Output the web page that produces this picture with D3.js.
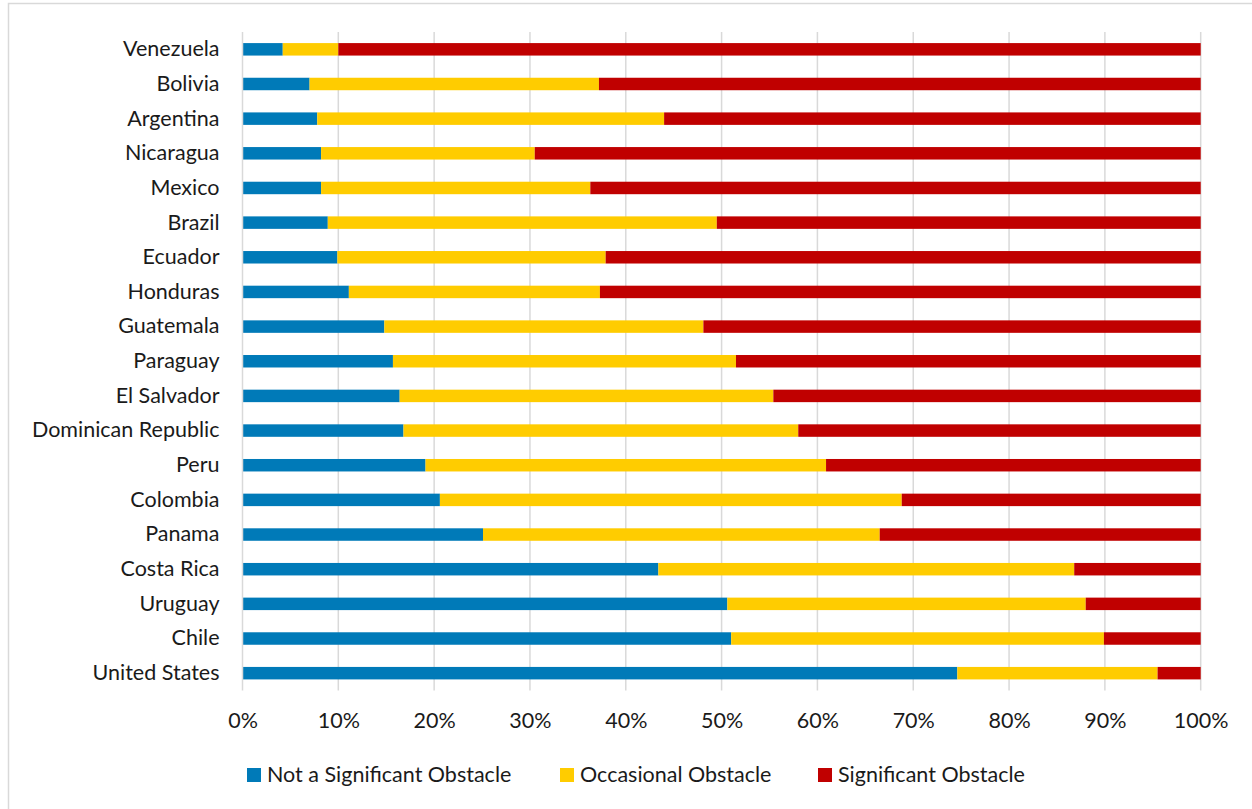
<!DOCTYPE html>
<html>
<head>
<meta charset="utf-8">
<script src="https://cdn.jsdelivr.net/npm/d3@7"></script>
<style>
  html, body { margin: 0; padding: 0; background: #fff; }
  svg text { font-family: Lato, "Open Sans", sans-serif; fill: #1a1a1a; }
</style>
</head>
<body>
<svg id="chart" width="1252" height="809"></svg>
<script>
// Countries, listed top to bottom
const countries = [
  "Venezuela", "Bolivia", "Argentina", "Nicaragua", "Mexico", "Brazil",
  "Ecuador", "Honduras", "Guatemala", "Paraguay", "El Salvador",
  "Dominican Republic", "Peru", "Colombia", "Panama", "Costa Rica",
  "Uruguay", "Chile", "United States"
];

// Share of respondents (%) per answer
const notSignificant = [4.2, 7.0, 7.8, 8.2, 8.2, 8.9, 9.9, 11.1, 14.8, 15.7, 16.4, 16.8, 19.1, 20.6, 25.1, 43.4, 50.6, 51.0, 74.6];
const occasional     = [5.8, 30.2, 36.2, 22.3, 28.1, 40.6, 28.0, 26.2, 33.3, 35.8, 39.0, 41.2, 41.8, 48.2, 41.4, 43.4, 37.4, 38.9, 20.9];
const significant    = [90.0, 62.8, 56.0, 69.5, 63.7, 50.5, 62.1, 62.7, 51.9, 48.5, 44.6, 42.0, 39.1, 31.2, 33.5, 13.2, 12.0, 10.1, 4.5];

const seriesNames = ["Not a Significant Obstacle", "Occasional Obstacle", "Significant Obstacle"];
const seriesColors = ["#007AB8", "#FFCC00", "#C00000"];
const tickValues = [0, 10, 20, 30, 40, 50, 60, 70, 80, 90, 100];

const rows = countries.map((c, i) => ({
  country: c,
  [seriesNames[0]]: notSignificant[i],
  [seriesNames[1]]: occasional[i],
  [seriesNames[2]]: significant[i]
}));

const svg = d3.select("#chart");
const fontSize = "21.5px";

// Outer chart frame
svg.append("rect")
  .attr("x", 8.5).attr("y", 3.5)
  .attr("width", 1260).attr("height", 820)
  .attr("fill", "#fff")
  .attr("stroke", "#d9d9d9")
  .attr("stroke-width", 1.5);

const plot = { left: 242.5, right: 1200.7, top: 32, bottom: 690.5 };

const x = d3.scaleLinear().domain([0, 100]).range([plot.left, plot.right]);
const y = d3.scaleBand().domain(countries).range([plot.top, plot.bottom]).paddingInner(0.64).paddingOuter(0.32);

// Vertical gridlines
svg.append("g")
  .selectAll("line")
  .data(tickValues.filter(v => v > 0))
  .join("line")
  .attr("x1", d => x(d)).attr("x2", d => x(d))
  .attr("y1", plot.top).attr("y2", plot.bottom)
  .attr("stroke", "#d9d9d9")
  .attr("stroke-width", 1.5);

// Stacked bars
const stack = d3.stack().keys(seriesNames);
const layers = stack(rows);

svg.append("g")
  .selectAll("g")
  .data(layers)
  .join("g")
  .attr("fill", (d, i) => seriesColors[i])
  .selectAll("rect")
  .data(d => d)
  .join("rect")
  .attr("x", d => x(d[0]))
  .attr("width", d => x(d[1]) - x(d[0]))
  .attr("y", d => y(d.data.country))
  .attr("height", y.bandwidth());

// Category axis line
svg.append("line")
  .attr("x1", plot.left).attr("x2", plot.left)
  .attr("y1", plot.top).attr("y2", plot.bottom)
  .attr("stroke", "#d9d9d9")
  .attr("stroke-width", 1.5);

// Category labels
const yAxis = d3.axisLeft(y).tickSize(0).tickPadding(23);
const gy = svg.append("g").attr("transform", `translate(${plot.left},0)`).call(yAxis);
gy.select(".domain").remove();
gy.selectAll("text")
  .attr("font-size", fontSize)
  .attr("font-family", "Lato, 'Open Sans', sans-serif")
  .attr("fill", "#1a1a1a");

// Percentage axis labels
const xAxis = d3.axisBottom(x).tickValues(tickValues).tickSize(0).tickPadding(0).tickFormat(d => d + "%");
const gx = svg.append("g").attr("transform", `translate(0,${plot.bottom})`).call(xAxis);
gx.select(".domain").remove();
gx.selectAll("text")
  .attr("dy", null)
  .attr("y", 37)
  .attr("font-size", fontSize)
  .attr("font-family", "Lato, 'Open Sans', sans-serif")
  .attr("fill", "#1a1a1a");

// Legend
const legendX = [247, 560, 818];
const legend = svg.append("g")
  .selectAll("g")
  .data(seriesNames)
  .join("g")
  .attr("transform", (d, i) => `translate(${legendX[i]},768)`);
legend.append("rect")
  .attr("width", 14).attr("height", 14)
  .attr("fill", (d, i) => seriesColors[i]);
legend.append("text")
  .attr("x", 20).attr("y", 14)
  .attr("font-size", fontSize)
  .text(d => d);
</script>
</body>
</html>
